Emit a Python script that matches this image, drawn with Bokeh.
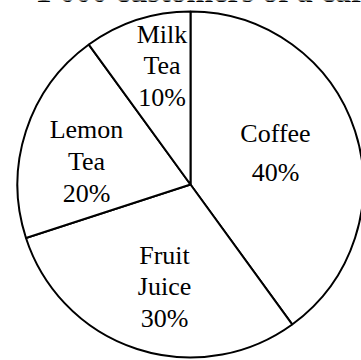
import math
from bokeh.plotting import figure
from bokeh.models import Range1d, ColumnDataSource
from bokeh.core.properties import value
from bokeh.embed import file_html
from bokeh.resources import INLINE

# ---- data ----
title_text = "1 000 customers of a cafe"
categories = ["Coffee", "Fruit Juice", "Lemon Tea", "Milk Tea"]
percentages = [40, 30, 20, 10]

# ---- layout (page pixels) ----
W, H = 361, 360
CX, CY = 190, 184          # pie centre
R = 173                    # pie radius
# per label: x offset from centre, first-line baseline (page y), line spacing
label_layout = [(85, 143, 39), (-26, 265, 31.5), (-104, 139, 32), (-28.5, 44, 31.5)]
FONT = "Liberation Serif"
LABEL_FS = 26
TITLE_FS = 32
BASE_SHIFT = 0.385         # empirical baseline correction (fraction of font size)

p = figure(width=W, height=H, output_backend="svg", toolbar_location=None,
           x_range=Range1d(-CX, W - CX), y_range=Range1d(CY - H, CY),
           min_border=0, outline_line_color=None, background_fill_color="white",
           border_fill_color="white")
p.axis.visible = False
p.grid.visible = False

starts, ends = [], []
cum = 0
total = sum(percentages)
for v in percentages:
    starts.append(math.pi / 2 - 2 * math.pi * cum / total)
    cum += v
    ends.append(math.pi / 2 - 2 * math.pi * cum / total)

src = ColumnDataSource(dict(start=starts, end=ends, cat=categories, pct=percentages))
p.wedge(x=0, y=0, radius=R, start_angle="start", end_angle="end", direction="clock",
        source=src, fill_color="white", line_color="black", line_width=2)

xs, ys, texts = [], [], []
for cat, pct, (dx, base, sp) in zip(categories, percentages, label_layout):
    lines = cat.split(" ") + [f"{pct}%"]
    for i, ln in enumerate(lines):
        xs.append(dx)
        ys.append(CY - (base + i * sp - BASE_SHIFT * LABEL_FS))
        texts.append(ln)
p.text(x=xs, y=ys, text=texts, text_align="center", text_baseline="alphabetic",
       text_font=value(FONT), text_font_size=f"{LABEL_FS}px", text_color="black")

p.text(x=[35 - CX], y=[CY - (2.5 - BASE_SHIFT * TITLE_FS)], text=[title_text],
       text_align="left", text_baseline="alphabetic", text_font=value(FONT),
       text_font_size=f"{TITLE_FS}px", text_font_style="bold", text_color="black")

open("out.html", "w").write(file_html(p, INLINE))
